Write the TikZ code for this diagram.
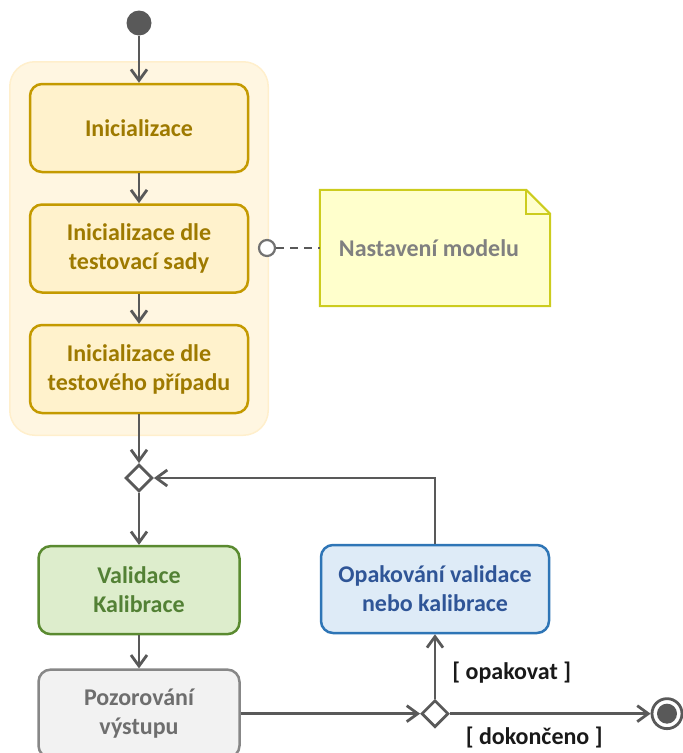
\documentclass[tikz,border=0pt]{standalone}
\usepackage{fontspec}
\setmainfont{Carlito}
\usetikzlibrary{positioning,shapes.geometric,arrows.meta,fit,backgrounds}
\definecolor{linegray}{HTML}{595959}
\definecolor{groupfill}{HTML}{FFF6E1}
\definecolor{groupdraw}{HTML}{FFEFCC}
\definecolor{initfill}{HTML}{FFF2CC}
\definecolor{initdraw}{HTML}{C49A00}
\definecolor{inittext}{HTML}{9E7A00}
\definecolor{valfill}{HTML}{DDEDCC}
\definecolor{valdraw}{HTML}{5A8A30}
\definecolor{valtext}{HTML}{538135}
\definecolor{repfill}{HTML}{DEEBF7}
\definecolor{repdraw}{HTML}{2E75B6}
\definecolor{reptext}{HTML}{2F5597}
\definecolor{obsfill}{HTML}{F2F2F2}
\definecolor{obsdraw}{HTML}{878787}
\definecolor{obstext}{HTML}{6E6E6E}
\definecolor{notefill}{HTML}{FFFFCC}
\definecolor{notedraw}{HTML}{CCCC1E}
\definecolor{notetext}{HTML}{808080}
\tikzset{
  actnode/.style  = {shape=rectangle, rounded corners=12pt, draw,
                     line width=2.5pt, align=center, inner sep=4pt,
                     font=\fontsize{24}{29}\selectfont\bfseries},
  initnode/.style = {actnode, fill=initfill, draw=initdraw, text=inittext,
                     minimum width=218pt, minimum height=88pt},
  valnode/.style  = {actnode, fill=valfill, draw=valdraw, text=valtext,
                     minimum width=201pt, minimum height=88pt},
  repnode/.style  = {actnode, fill=repfill, draw=repdraw, text=reptext,
                     minimum width=228pt, minimum height=88pt},
  obsnode/.style  = {actnode, fill=obsfill, draw=obsdraw, text=obstext,
                     minimum width=201pt, minimum height=88pt},
  notebox/.style  = {rectangle, text=notetext, minimum width=230pt,
                     minimum height=116pt,
                     font=\fontsize{24}{29}\selectfont\bfseries},
  group/.style    = {rectangle, rounded corners=25pt, fill=groupfill,
                     draw=groupdraw, line width=1.5pt},
  decision/.style = {diamond, draw=linegray, fill=white, line width=2.8pt,
                     minimum size=27pt, inner sep=0pt},
  startnode/.style= {circle, fill=linegray, minimum size=25pt, inner sep=0pt},
  endnode/.style  = {circle, draw=linegray, fill=white, line width=2.8pt,
                     minimum size=30pt, inner sep=0pt,
                     path picture={\fill[linegray]
                       (path picture bounding box.center) circle (10pt);}},
  lollipop/.style = {circle, draw=linegray!85, fill=white, line width=2.2pt,
                     minimum size=16pt, inner sep=0pt},
  guard/.style    = {font=\fontsize{24}{29}\selectfont\bfseries,
                     text=black!90, inner sep=2pt},
  flow/.style     = {draw=linegray, line width=2.8pt,
                     -{Straight Barb[length=11pt,width=16pt]}},
  assoc/.style    = {draw=linegray, line width=2.8pt,
                     dash pattern=on 8pt off 6pt}
}
\begin{document}
\begin{tikzpicture}[x=1pt,y=1pt]
  \useasboundingbox (0,0) rectangle (683,-753);

  \node[startnode] (start) at (139,-23) {};
  \node[initnode] (init1) at (139,-128) {Inicializace};
  \node[initnode, below=30pt of init1] (init2) {Inicializace dle\\testovací sady};
  \node[initnode, below=30pt of init2] (init3) {Inicializace dle\\testového případu};

  \node[lollipop] (port) at (267,-248) {};
  \node[notebox] (model) at (435,-248) {\hspace*{-12pt}Nastavení modelu};

  \node[decision] (merge) at (139,-478) {};
  \node[valnode, below=52pt of merge] (valid) {Validace\\Kalibrace};
  \node[obsnode, below=33pt of valid] (observe) {Pozorování\\výstupu};
  \node[decision] (branch) at (observe.east -| 435,0) {};
  \node[repnode] (repeat) at (435,-589) {Opakování validace\\nebo kalibrace};
  \node[endnode] (stop) at (branch -| 667,0) {};

  % setup group and the note sheet
  \begin{scope}[on background layer]
    \node[group, fit=(init1)(init3), inner xsep=19pt, inner ysep=21pt] (setup) {};
    \fill[notefill] (model.north west) -- ([xshift=-24pt]model.north east)
      -- ([yshift=-24pt]model.north east) -- (model.south east)
      -- (model.south west) -- cycle;
    \draw[notedraw, line width=2pt] (model.north west)
      -- ([xshift=-24pt]model.north east) -- ([yshift=-24pt]model.north east)
      -- (model.south east) -- (model.south west) -- cycle;
    \draw[notedraw, line width=2pt] ([xshift=-24pt]model.north east)
      |- ([yshift=-24pt]model.north east);
  \end{scope}

  \draw[flow] (start) -- (init1);
  \foreach \a/\b in {init1/init2, init2/init3, init3/merge, merge/valid, valid/observe}
    \draw[flow] (\a) -- (\b);
  \draw[assoc] (port) -- (model);
  \draw[flow] (observe) -- (branch);
  \draw[flow] (branch) -- node[guard, pos=0.4, right=14pt] {[ opakovat ]} (repeat);
  \draw[flow] (branch) -- node[guard, pos=0.42, below=10pt] {[ dokončeno ]} (stop);
  \draw[flow] (repeat.north) |- (merge.east);
\end{tikzpicture}
\end{document}
